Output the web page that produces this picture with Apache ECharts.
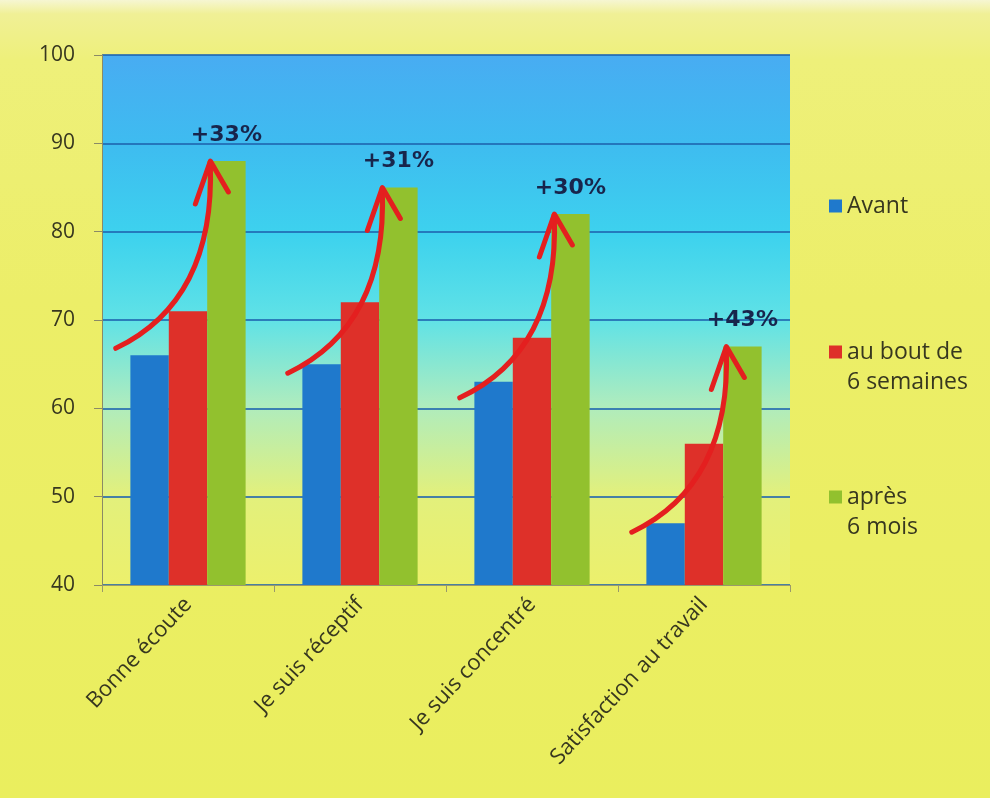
<!DOCTYPE html>
<html>
<head>
<meta charset="utf-8">
<script src="https://cdn.jsdelivr.net/npm/echarts@6/dist/echarts.min.js"></script>
<style>
  html, body { margin: 0; padding: 0; }
  body {
    width: 990px; height: 798px;
    background: linear-gradient(to bottom, #f6f6d2 0px, #f0f096 14px, #eef07a 60px, #ecee68 300px, #eaee5e 798px);
  }
  #chart { width: 990px; height: 798px; }
</style>
</head>
<body>
<div id="chart"></div>
<script>
// ---- data ----
const categories = ['Bonne écoute', 'Je suis réceptif', 'Je suis concentré', 'Satisfaction au travail'];
const seriesNames = ['Avant', 'au bout de 6 semaines', 'après 6 mois'];
const avant = [66, 65, 63, 47];
const sixSemaines = [71, 72, 68, 56];
const sixMois = [88, 85, 82, 67];
const gains = ['+33%', '+31%', '+30%', '+43%'];
const yMin = 40, yMax = 100, yStep = 10;

// ---- style ----
const textColor = '#37371f';
const font = 'Open Sans';
const legendLabels = {
  'Avant': 'Avant',
  'au bout de 6 semaines': '\nau bout de\n6 semaines',
  'après 6 mois': '\naprès\n6 mois'
};
// arrow start offsets (px below the "Avant" bar top), purely decorative
const arrowStartDy = [-7, 9, 16, 9];

const chart = echarts.init(document.getElementById('chart'), null, { renderer: 'canvas' });

function legendFor(name, top) {
  return {
    data: [name],
    left: 829,
    top: top,
    orient: 'vertical',
    padding: 0,
    itemWidth: 13,
    itemHeight: 13,
    icon: 'rect',
    selectedMode: false,
    formatter: n => legendLabels[n],
    textStyle: { fontFamily: font, fontSize: 23, lineHeight: 30, color: textColor }
  };
}

const option = {
  backgroundColor: 'transparent',
  animation: false,
  textStyle: { fontFamily: font },
  grid: {
    left: 102, right: 200, top: 55, bottom: 213,
    show: true,
    borderWidth: 0,
    backgroundColor: new echarts.graphic.LinearGradient(0, 0, 0, 1, [
      { offset: 0, color: '#48acf2' },
      { offset: 0.17, color: '#3ebcf0' },
      { offset: 0.34, color: '#3dd2ee' },
      { offset: 0.5, color: '#60e2e6' },
      { offset: 0.66, color: '#aeecbe' },
      { offset: 0.83, color: '#e2f07c' },
      { offset: 1, color: '#ecf06c' }
    ])
  },
  legend: [
    legendFor('Avant', 191),
    legendFor('au bout de 6 semaines', 307),
    legendFor('après 6 mois', 452)
  ],
  xAxis: {
    type: 'category',
    data: categories,
    axisLine: { lineStyle: { color: '#9a9a6a', width: 1 } },
    axisTick: { show: true, length: 7, lineStyle: { color: '#9a9a6a' } },
    axisLabel: {
      rotate: 47, margin: 16, interval: 0,
      fontFamily: font, fontSize: 22, color: textColor
    }
  },
  yAxis: {
    type: 'value',
    min: yMin, max: yMax, interval: yStep,
    axisLine: { show: true, lineStyle: { color: '#8a8a66', width: 1 } },
    axisTick: { show: true, length: 8, lineStyle: { color: '#8a8a66' } },
    axisLabel: { margin: 27, fontFamily: font, fontSize: 21, color: textColor },
    splitLine: { show: true, lineStyle: { color: 'rgba(30,100,175,0.8)', width: 2 } }
  },
  series: [
    {
      name: seriesNames[0], type: 'bar', data: avant,
      barGap: '0%', barCategoryGap: '33%',
      itemStyle: { color: '#1f79cc' }
    },
    {
      name: seriesNames[1], type: 'bar', data: sixSemaines,
      barGap: '0%', barCategoryGap: '33%',
      itemStyle: { color: '#de3029' }
    },
    {
      name: seriesNames[2], type: 'bar', data: sixMois,
      barGap: '0%', barCategoryGap: '33%',
      itemStyle: { color: '#92c12e' },
      label: {
        show: true, position: 'top', distance: 15,
        formatter: p => gains[p.dataIndex],
        fontFamily: 'DejaVu Sans', fontWeight: 'bold', fontSize: 22, color: '#18254c'
      }
    }
  ]
};

chart.setOption(option);

// ---- red arrows, positioned from the chart's own scales ----
const graphics = [];
const c0 = chart.convertToPixel({ gridIndex: 0 }, [0, yMin]);
const c1 = chart.convertToPixel({ gridIndex: 0 }, [1, yMin]);
const bw = c1[0] - c0[0];
const arrowColor = '#e41f1f';
categories.forEach((cat, i) => {
  const blueTop = chart.convertToPixel({ gridIndex: 0 }, [i, avant[i]]);
  const greenTop = chart.convertToPixel({ gridIndex: 0 }, [i, sixMois[i]]);
  const sx = blueTop[0] - 0.42 * bw, sy = blueTop[1] + arrowStartDy[i];
  const tx = greenTop[0] + 0.13 * bw, ty = greenTop[1];
  const cx = tx + 5, cy = sy - 0.255 * (sy - ty);
  graphics.push({
    type: 'bezierCurve', z: 100, silent: true,
    shape: { x1: sx, y1: sy, x2: tx, y2: ty + 2, cpx1: cx, cpy1: cy },
    style: { stroke: arrowColor, lineWidth: 5, fill: null, lineCap: 'round' }
  });
  graphics.push({
    type: 'polyline', z: 100, silent: true,
    shape: { points: [[tx - 15, ty + 43], [tx, ty], [tx + 18, ty + 31]] },
    style: { stroke: arrowColor, lineWidth: 5, fill: null, lineCap: 'round', lineJoin: 'round' }
  });
});
chart.setOption({ graphic: graphics });
</script>
</body>
</html>
